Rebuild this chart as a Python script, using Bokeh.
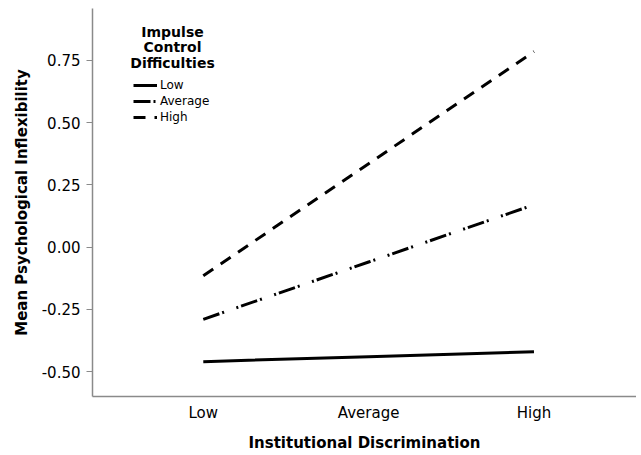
from bokeh.plotting import figure
from bokeh.models import Range1d, FixedTicker, NumeralTickFormatter, Legend, LegendItem, Label
from bokeh.embed import file_html
from bokeh.resources import INLINE

categories = ["Low", "Average", "High"]
series_names = ["Low", "Average", "High"]
low_vals = [-0.46, -0.44, -0.42]
avg_vals = [-0.29, -0.06, 0.17]
high_vals = [-0.115, 0.335, 0.785]
y_ticks = [-0.50, -0.25, 0.00, 0.25, 0.50, 0.75]
legend_title = ["Impulse", "Control", "Difficulties"]

FONT = "DejaVu Sans"
x = list(range(len(categories)))

p = figure(width=636, height=454, output_backend="svg", toolbar_location=None,
           x_range=Range1d(-0.67, 2.62), y_range=Range1d(-0.60, 0.958),
           min_border_left=92, min_border_right=0, min_border_top=8, min_border_bottom=56)
p.outline_line_color = None
p.grid.visible = False
p.background_fill_color = "white"
p.border_fill_color = "white"

r_low = p.line(x, low_vals, line_color="black", line_width=3, line_cap="butt")
r_avg = p.line(x, avg_vals, line_color="black", line_width=3, line_cap="butt",
               line_dash="17 3 2 13 2 3")
r_high = p.line(x, high_vals, line_color="black", line_width=3, line_cap="butt",
                line_dash="12 9")

p.xaxis.ticker = FixedTicker(ticks=x)
p.xaxis.major_label_overrides = {i: c for i, c in zip(x, categories)}
p.xaxis.major_tick_line_color = None
p.xaxis.minor_tick_line_color = None
p.yaxis.ticker = FixedTicker(ticks=y_ticks)
p.yaxis.formatter = NumeralTickFormatter(format="0.00")
p.yaxis.minor_tick_line_color = None
p.yaxis.major_tick_in = 0
p.yaxis.major_tick_out = 6
p.yaxis.major_tick_line_color = "#8a8a8a"
for ax in (p.xaxis, p.yaxis):
    ax.axis_line_color = "#8a8a8a"
    ax.axis_line_width = 1.5
    ax.major_label_text_font = FONT
    ax.major_label_text_font_size = "15px"
    ax.major_label_text_color = "black"
    ax.axis_label_text_font = FONT
    ax.axis_label_text_font_size = "15px"
    ax.axis_label_text_font_style = "bold"
    ax.axis_label_text_color = "black"
p.xaxis.axis_label = "Institutional Discrimination"
p.yaxis.axis_label = "Mean Psychological Inflexibility"
p.xaxis.major_label_standoff = 1
p.xaxis.axis_label_standoff = 9
p.yaxis.major_label_standoff = 6
p.yaxis.axis_label_standoff = 8

legend = Legend(items=[LegendItem(label=n, renderers=[r]) for n, r in
                       zip(series_names, [r_low, r_avg, r_high])],
                location=(41, 271), padding=0, spacing=0, margin=0,
                glyph_width=24, glyph_height=16, label_height=16,
                label_standoff=3, label_text_font=FONT, label_text_font_size="12px",
                label_text_color="black",
                border_line_color=None, background_fill_alpha=0)
p.add_layout(legend)

for i, t in enumerate(legend_title):
    p.add_layout(Label(x=80, y=365 - i * 15.5, x_units="screen", y_units="screen", text=t,
                       text_align="center", text_baseline="middle", text_font=FONT,
                       text_font_size="14px", text_font_style="bold", text_color="black"))

open("out.html", "w").write(file_html(p, INLINE))
